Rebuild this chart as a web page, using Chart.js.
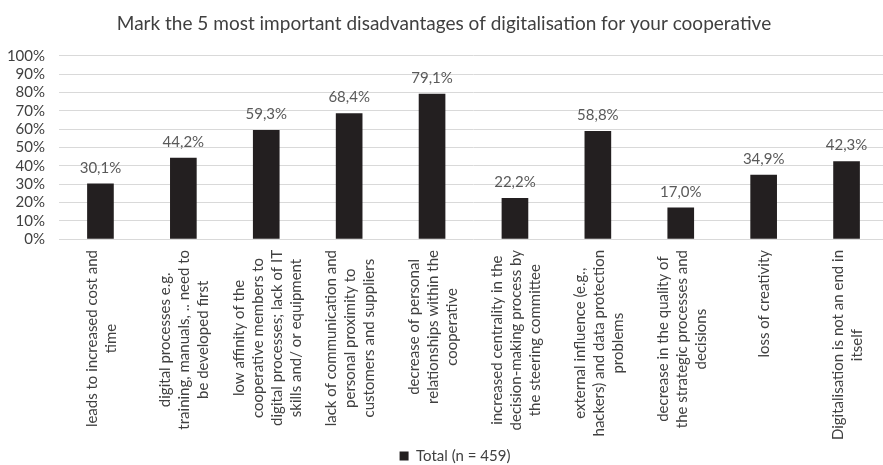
<!DOCTYPE html>
<html>
<head>
<meta charset="utf-8">
<script src="https://cdn.jsdelivr.net/npm/chart.js@4/dist/chart.umd.min.js"></script>
<style>
  html, body { margin: 0; padding: 0; background: #ffffff; overflow: hidden; }
  #wrap { width: 883px; height: 465px; overflow: hidden; }
  canvas { display: block; }
</style>
</head>
<body>
<div id="wrap"><canvas id="chart" width="888" height="465"></canvas></div>
<script>
// Survey answers: one category per disadvantage, each split into display lines
const categories = [
  ["leads to increased cost and", "time"],
  ["digital processes e.g.", "training, manuals, .. need to", "be developed first"],
  ["low affinity of the", "cooperative members to", "digital processes; lack of IT", "skills and/ or equipment"],
  ["lack of communication and", "personal proximity to", "customers and suppliers"],
  ["decrease of personal", "relationships within the", "cooperative"],
  ["increased centrality in the", "decision-making process by", "the steering committee"],
  ["external influence (e.g.,", "hackers) and data protection", "problems"],
  ["decrease in the quality of", "the strategic processes and", "decisions"],
  ["loss of creativity"],
  ["Digitalisation is not an end in", "itself"]
];

// Share of respondents (%) naming each disadvantage
const totalValues = [30.1, 44.2, 59.3, 68.4, 79.1, 22.2, 58.8, 17.0, 34.9, 42.3];

// Value axis
const yMin = 0;
const yMax = 100;
const yStep = 10;

const seriesLabel = "Total (n = 459)";
const chartTitle = "Mark the 5 most important disadvantages of digitalisation for your cooperative";

const FONT = "Lato, 'Open Sans', sans-serif";
const BAR_COLOR = "#231f20";

function formatPct(v) {
  return v.toFixed(1).replace(".", ",") + "%";
}

// Value labels above each bar
const valueLabels = {
  id: "valueLabels",
  afterDatasetsDraw(chart) {
    const ctx = chart.ctx;
    const meta = chart.getDatasetMeta(0);
    ctx.save();
    ctx.font = "15px " + FONT;
    ctx.fillStyle = "#595959";
    ctx.textAlign = "center";
    ctx.textBaseline = "middle";
    meta.data.forEach((bar, i) => {
      ctx.fillText(formatPct(chart.data.datasets[0].data[i]), bar.x, bar.y - 16);
    });
    ctx.restore();
  }
};

// Rotated, centred multi-line category labels under the axis
const categoryLabels = {
  id: "categoryLabels",
  afterDraw(chart) {
    const ctx = chart.ctx;
    const xScale = chart.scales.x;
    const lineH = 19;
    const top = xScale.top + 11;
    ctx.save();
    ctx.font = "15px " + FONT;
    ctx.fillStyle = "#404040";
    ctx.textAlign = "center";
    ctx.textBaseline = "middle";
    chart.data.labels.forEach((lines, i) => {
      const cx = xScale.getPixelForValue(i) + 1;
      const w = Math.max(...lines.map(l => ctx.measureText(l).width));
      ctx.save();
      ctx.translate(cx, top);
      ctx.rotate(-Math.PI / 2);
      lines.forEach((line, j) => {
        const off = (j - (lines.length - 1) / 2) * lineH;
        ctx.fillText(line, -w / 2, off);
      });
      ctx.restore();
    });
    ctx.restore();
  }
};

// Nudge the legend box a little to the right of the canvas centre
const legendShift = {
  id: "legendShift",
  afterLayout(chart) {
    if (chart.legend) {
      chart.legend.left += 11;
      chart.legend.right += 11;
    }
  }
};

new Chart(document.getElementById("chart"), {
  type: "bar",
  data: {
    labels: categories,
    datasets: [{
      label: seriesLabel,
      data: totalValues,
      backgroundColor: BAR_COLOR,
      borderWidth: 0,
      barThickness: 26
    }]
  },
  options: {
    responsive: false,
    animation: false,
    layout: { padding: { left: 0, right: 0, top: 0, bottom: -8.5 } },
    plugins: {
      title: {
        display: true,
        text: chartTitle,
        color: "#404040",
        font: { family: FONT, size: 19, weight: "normal" },
        padding: { top: 12.6, bottom: 20.3 }
      },
      legend: {
        display: true,
        position: "bottom",
        labels: {
          color: "#404040",
          font: { family: FONT, size: 15 },
          boxWidth: 9,
          boxHeight: 9,
          padding: 4
        }
      },
      tooltip: { enabled: false }
    },
    scales: {
      x: {
        grid: { display: false },
        border: { display: false },
        ticks: { display: false },
        afterFit(scale) { scale.height = 205.5; }
      },
      y: {
        min: yMin,
        max: yMax,
        ticks: {
          stepSize: yStep,
          autoSkip: false,
          padding: 14,
          color: "#404040",
          font: { family: FONT, size: 15 },
          callback: v => v + "%"
        },
        grid: { color: "#d9d9d9", lineWidth: 1, drawTicks: false },
        border: { display: false },
        afterFit(scale) { scale.width = 59; }
      }
    }
  },
  plugins: [valueLabels, categoryLabels, legendShift]
});
</script>
</body>
</html>
